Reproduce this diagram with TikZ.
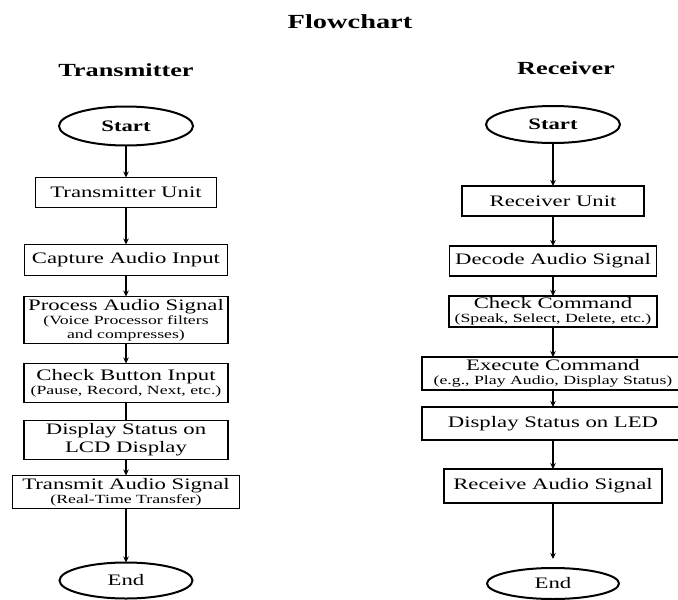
\documentclass[tikz,border=0pt]{standalone}
\usepackage{fontspec}
\setmainfont{Liberation Serif}[FakeStretch=1.42]
\usetikzlibrary{positioning,shapes.geometric,arrows.meta}

\newcommand{\smallnote}[1]{{\fontsize{12.5}{14}\selectfont #1}}

\tikzset{
    stepbox/.style = {draw, line width=1.8pt, rectangle, inner xsep=2pt, inner ysep=0pt,
                      outer sep=0pt, align=center, font=\fontsize{16}{18}\selectfont},
    terminal/.style = {draw, line width=2pt, ellipse, inner sep=0pt, outer sep=0pt,
                       font=\fontsize{16}{18}\selectfont},
    heading/.style = {anchor=base, font=\bfseries\fontsize{18.5}{20}\selectfont},
}

\begin{document}
\begin{tikzpicture}[x=1pt, y=-1pt, >={Stealth[length=6pt,width=5.5pt]},
                    every edge/.style={draw, line width=1.3pt}]
    \useasboundingbox (0,0) rectangle (678,600);

    \node (title) [anchor=base, font=\bfseries\fontsize{20}{22}\selectfont] at (350,28) {Flowchart};
    \node (thead) [heading] at (126,76) {Transmitter};
    \node (rhead) [heading] at (566,74) {Receiver};

    % transmitter
    \node (tstart) [terminal, minimum width=134pt, minimum height=39pt] at (126,126) {\bfseries Start};
    \node (tunit) [stepbox, below = 32pt of tstart, minimum width=181pt, minimum height=30pt] {Transmitter Unit} edge [<-] (tstart);
    \node (tcap) [stepbox, below = 37pt of tunit, minimum width=203pt, minimum height=31pt] {Capture Audio Input} edge [<-] (tunit);
    \node (tproc) [stepbox, below = 21pt of tcap, minimum width=204pt, minimum height=47pt] {Process Audio Signal\\[-4pt]\smallnote{(Voice Processor filters}\\[-4pt]\smallnote{and compresses)}} edge [<-] (tcap);
    \node (tbtn) [stepbox, below = 20pt of tproc, minimum width=204pt, minimum height=39pt] {Check Button Input\\[-4pt]\smallnote{(Pause, Record, Next, etc.)}} edge [<-] (tproc);
    \node (tlcd) [stepbox, below = 18pt of tbtn, minimum width=204pt, minimum height=39pt] {Display Status on\\LCD Display} edge [-] (tbtn);
    \node (tsend) [stepbox, below = 16pt of tlcd, minimum width=227pt, minimum height=33pt] {Transmit Audio Signal\\[-4pt]\smallnote{(Real-Time Transfer)}} edge [<-] (tlcd);
    \node (tend) [terminal, below = 54pt of tsend, minimum width=133pt, minimum height=36pt] {End} edge [<-] (tsend);

    % receiver
    \node (rstart) [terminal, minimum width=134pt, minimum height=37pt] at (553,124.5) {\bfseries Start};
    \node (runit) [stepbox, below = 43pt of rstart, minimum width=182pt, minimum height=30pt] {Receiver Unit} edge [<-] (rstart);
    \node (rdec) [stepbox, below = 30pt of runit, minimum width=207pt, minimum height=30pt] {Decode Audio Signal} edge [<-] (runit);
    \node (rcmd) [stepbox, below = 20pt of rdec, minimum width=208pt, minimum height=31pt] {Check Command\\[-4pt]\smallnote{(Speak, Select, Delete, etc.)}} edge [<-] (rdec);
    \node (rexec) [stepbox, below = 30pt of rcmd, minimum width=262pt, minimum height=33pt] {Execute Command\\[-4pt]\smallnote{(e.g., Play Audio, Display Status)}} edge [<-] (rcmd);
    \node (rled) [stepbox, below = 17pt of rexec, minimum width=262pt, minimum height=33pt] {Display Status on LED} edge [<-] (rexec);
    \node (rrecv) [stepbox, below = 29pt of rled, minimum width=218pt, minimum height=34pt] {Receive Audio Signal} edge [<-] (rled);
    \node (rend) [terminal, below = 65pt of rrecv, minimum width=132pt, minimum height=31pt] {End} edge [<-, shorten <=9pt] (rrecv);
\end{tikzpicture}
\end{document}
